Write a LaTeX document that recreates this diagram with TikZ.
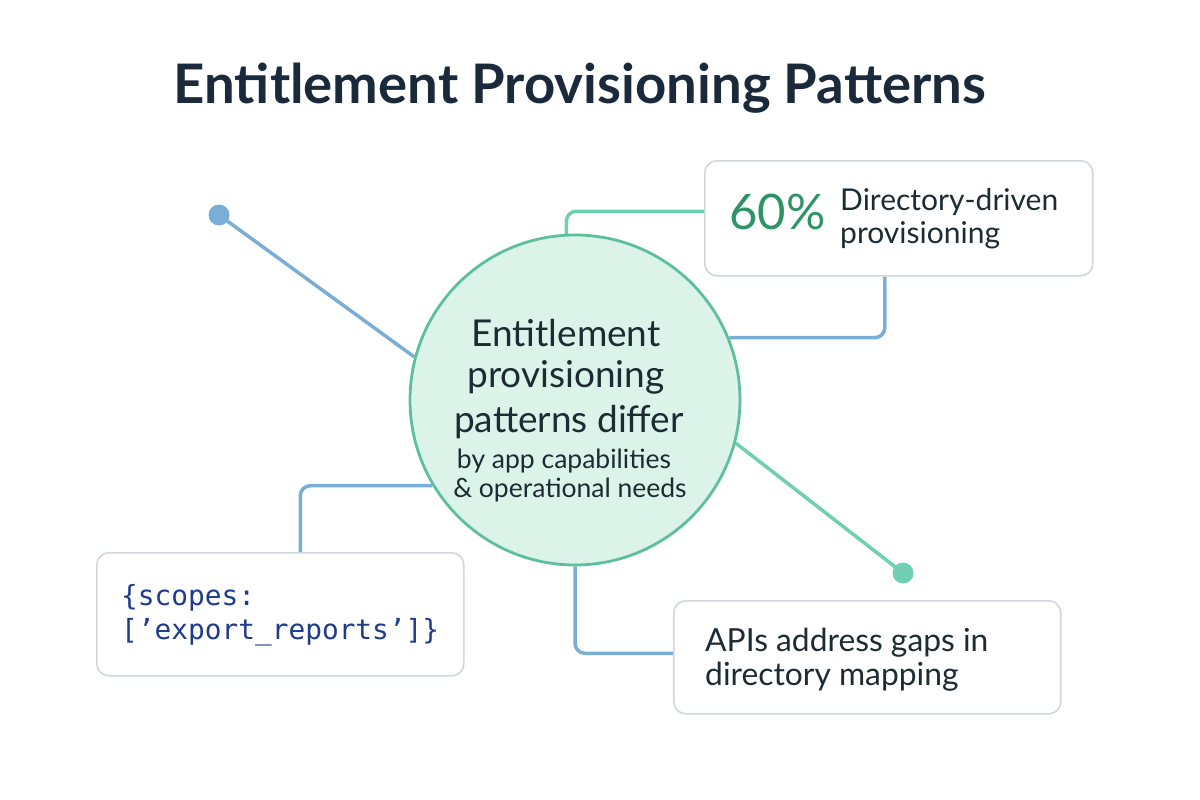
\documentclass[tikz,border=0pt]{standalone}
\usepackage{fontspec}
\setmainfont{Lato}
\newfontfamily\monofont{DejaVu Sans Mono}
\usetikzlibrary{backgrounds}
\definecolor{titlec}{HTML}{1B2A3B}
\definecolor{textc}{HTML}{1E2B33}
\definecolor{bluel}{HTML}{7AAED6}
\definecolor{greenl}{HTML}{6FCFB0}
\definecolor{greent}{HTML}{2E9466}
\definecolor{hubfill}{HTML}{DCF3E9}
\definecolor{hubline}{HTML}{5EBF9C}
\definecolor{boxline}{HTML}{CFD6DC}
\definecolor{monoc}{HTML}{1F3B8C}
\tikzset{
  card/.style={draw=boxline, line width=1.6pt, fill=white, rounded corners=12pt, inner sep=0pt, anchor=north west},
  bline/.style={draw=bluel, line width=3.5pt, rounded corners=10pt},
  gline/.style={draw=greenl, line width=3.5pt, rounded corners=10pt},
  txt/.style={inner sep=0pt, anchor=base west, text=textc},
  hubtxt/.style={inner sep=0pt, anchor=base, text=textc},
}
\begin{document}
\begin{tikzpicture}[x=1pt,y=-1pt]
\useasboundingbox (0,0) rectangle (1200,800);
% title
\node[inner sep=0pt, anchor=base, text=titlec, font=\fontsize{54.5}{60}\selectfont\bfseries] (title) at (580,103) {Entitlement Provisioning Patterns};
% hub
\node[circle, draw=hubline, line width=2.8pt, fill=hubfill, minimum size=330pt, inner sep=0pt] (hub) at (575,400) {};
\node[hubtxt, font=\fontsize{37}{40}\selectfont] (h1) at (566,346) {Entitlement};
\node[hubtxt, font=\fontsize{37}{40}\selectfont] (h2) at (566,387) {provisioning};
\node[hubtxt, font=\fontsize{37}{40}\selectfont] (h3) at (569,432) {patterns differ};
\node[hubtxt, font=\fontsize{26.5}{30}\selectfont] (h4) at (564,468) {by app capabilities};
\node[hubtxt, font=\fontsize{26.5}{30}\selectfont] (h5) at (570,497) {\& operational needs};
% cards
\node[card, minimum width=388pt, minimum height=115pt] (c1) at (704,160) {};
\node[inner sep=0pt, anchor=base west, text=greent, font=\fontsize{49}{54}\selectfont] (pct) at (729,229) {60\%};
\node[inner sep=0pt, anchor=north west, align=left, text=textc, font=\fontsize{30}{33}\selectfont] (c1t) at (840,188) {Directory-driven\\provisioning};
\node[card, minimum width=367pt, minimum height=123pt] (c2) at (96,552) {};
\node[inner sep=0pt, anchor=base west, text=monoc, font=\monofont\fontsize{27.8}{30}\selectfont] (c2a) at (121,605) {\{scopes:};
\node[inner sep=0pt, anchor=base west, text=monoc, font=\monofont\fontsize{27.8}{30}\selectfont] (c2b) at (121,639) {[’export\_reports’]\}};
\node[card, minimum width=387pt, minimum height=113pt] (c3) at (673,600) {};
\node[txt, font=\fontsize{31.8}{34}\selectfont] (c3a) at (705,651) {APIs address gaps in};
\node[txt, font=\fontsize{31.8}{34}\selectfont] (c3b) at (705,685) {directory mapping};
% dots
\node[circle, fill=bluel, minimum size=21pt, inner sep=0pt] (d1) at (219,215) {};
\node[circle, fill=greenl, minimum size=21pt, inner sep=0pt] (d2) at (903,573) {};
% connectors
\begin{scope}[on background layer]
\fill[white] (0,0) rectangle (1200,800);
\draw[gline] (hub.93.5) |- ([yshift=7pt]c1.west);
\draw[bline] ([xshift=-14pt]c1.south) |- (hub.22);
\draw[bline] (d1.center) -- (hub.165);
\draw[gline] (hub.-15) -- (d2.center);
\draw[bline] (hub.211) -| ([xshift=20pt]c2.north);
\draw[bline] (hub.south) |- ([yshift=4pt]c3.west);
\end{scope}
\end{tikzpicture}
\end{document}
